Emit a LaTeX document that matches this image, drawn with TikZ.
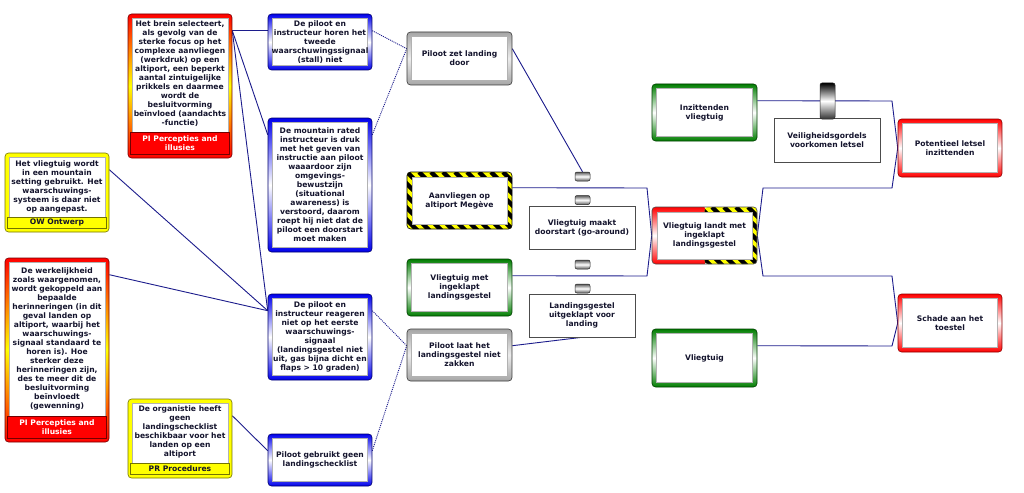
\documentclass[tikz,border=0pt]{standalone}
\usepackage{fontspec}
\setmainfont{DejaVu Sans}
\usetikzlibrary{calc,backgrounds}
\definecolor{linec}{RGB}{28,28,140}
\definecolor{txtc}{RGB}{20,20,45}
\definecolor{bblue}{RGB}{0,0,235}
\definecolor{bgreen}{RGB}{0,125,0}
\definecolor{bred}{RGB}{255,0,0}
\definecolor{byellow}{RGB}{255,255,0}
\tikzset{
  txt/.style={font=\bfseries\fontsize{7.6}{9}\selectfont, text=txtc, align=center, inner sep=0pt},
  bframe/.style n args={3}{rounded corners=3.5pt, draw=#3, line width=0.6pt, txt,
    minimum width=104pt,
    path picture={
      \shade[sharp corners, top color=#1, bottom color=#1, middle color=#2]
        (path picture bounding box.south west) rectangle (path picture bounding box.north east);
      \filldraw[sharp corners, fill=white, draw=gray!60, line width=0.4pt]
        ([shift={(4.5pt,-4.5pt)}]path picture bounding box.north west) rectangle
        ([shift={(-4.5pt,4.5pt)}]path picture bounding box.south east);
    }},
  bluebox/.style={bframe={bblue}{white}{bblue!45!black}},
  greenbox/.style={bframe={bgreen}{white}{bgreen!50!black}, minimum width=105pt},
  redbox/.style={bframe={bred}{white}{bred!55!black}},
  graybox/.style={bframe={gray!70}{gray!15}{gray!45!black}, minimum width=105pt},
  catbox/.style n args={4}{rounded corners=3.5pt, draw=#3, line width=0.6pt, inner sep=0pt,
    minimum width=104pt,
    path picture={
      \shade[sharp corners, top color=#1, bottom color=#1, middle color=#2]
        (path picture bounding box.south west) rectangle (path picture bounding box.north east);
      \filldraw[sharp corners, fill=white, draw=gray!60, line width=0.4pt]
        ([shift={(4pt,-4pt)}]path picture bounding box.north west) rectangle
        ([shift={(-4pt,#4+4pt)}]path picture bounding box.south east);
      \filldraw[sharp corners, fill=#1, draw=#3, line width=0.4pt]
        ([shift={(2.5pt,4pt)}]path picture bounding box.south west) rectangle
        ([shift={(-2.5pt,#4+4pt)}]path picture bounding box.south east);
    }},
  hazard/.style={rounded corners=3.5pt, draw=black, line width=0.6pt, txt, minimum width=105pt,
    path picture={
      \fill[byellow] (path picture bounding box.south west) rectangle (path picture bounding box.north east);
      \foreach \k in {-72,-60,...,120}{
        \draw[sharp corners, black, line width=4.3pt]
          ([xshift=\k pt]path picture bounding box.north west) -- ++(80pt,-80pt);}
      \filldraw[sharp corners, fill=white, draw=gray!60, line width=0.4pt]
        ([shift={(5pt,-5pt)}]path picture bounding box.north west) rectangle
        ([shift={(-5pt,5pt)}]path picture bounding box.south east);
    }},
  topev/.style={rounded corners=3.5pt, draw=black!70, line width=0.6pt, txt, minimum width=105pt,
    path picture={
      \shade[sharp corners, top color=bred, bottom color=bred, middle color=white]
        (path picture bounding box.south west) rectangle (path picture bounding box.north);
      \begin{scope}
        \clip (path picture bounding box.south) rectangle (path picture bounding box.north east);
        \fill[byellow] (path picture bounding box.south) rectangle (path picture bounding box.north east);
        \foreach \k in {-72,-60,...,120}{
          \draw[sharp corners, black, line width=4.3pt]
            ([xshift=\k pt]path picture bounding box.north west) -- ++(80pt,-80pt);}
      \end{scope}
      \filldraw[sharp corners, fill=white, draw=gray!60, line width=0.4pt]
        ([shift={(5pt,-5pt)}]path picture bounding box.north west) rectangle
        ([shift={(-5pt,5pt)}]path picture bounding box.south east);
    }},
  barrier/.style={rectangle, draw=gray!60!black, fill=white, line width=0.6pt, txt,
    minimum width=106pt, minimum height=43pt},
  pill/.style={rectangle, rounded corners=2pt, draw=black!85, line width=0.5pt, inner sep=0pt,
    minimum width=15pt, minimum height=9pt,
    top color=gray!70!black, bottom color=gray!70!black, middle color=white},
  conn/.style={draw=linec, line width=0.9pt},
  dconn/.style={conn, dash pattern=on 1pt off 1pt}
}
\begin{document}
\begin{tikzpicture}[x=1pt,y=-1pt]
\useasboundingbox (0,0) rectangle (1024,492);

% cause category boxes
\node[catbox={bred}{byellow}{bred!45!black}{22pt}, minimum height=144pt] (pi1) at (180,86) {};
\node[txt] (pi1t) at ($(pi1.north)+(0,60)$) {Het brein selecteert,\\ als gevolg van de\\ sterke focus op het\\ complexe aanvliegen\\ (werkdruk) op een\\ altiport, een beperkt\\ aantal zintuigelijke\\ prikkels en daarmee\\ wordt de\\ besluitvorming\\ beïnvloed (aandachts\\ -functie)};
\node[txt, text=white] (pi1c) at ($(pi1.south)+(0,-15)$) {PI Percepties and\\ illusies};

\node[catbox={byellow}{byellow}{byellow!45!black}{11pt}, minimum height=79pt] (ow) at (57,192.5) {};
\node[txt] (owt) at ($(ow.north)+(0,34.5)$) {Het vliegtuig wordt\\ in een mountain\\ setting gebruikt. Het\\ waarschuwings-\\ systeem is daar niet\\ op aangepast.};
\node[txt] (owc) at ($(ow.south)+(0,-9.5)$) {OW Ontwerp};

\node[catbox={bred}{byellow}{bred!45!black}{22pt}, minimum height=184pt] (pi2) at (57,350) {};
\node[txt] (pi2t) at ($(pi2.north)+(0,81.5)$) {De werkelijkheid\\ zoals waargenomen,\\ wordt gekoppeld aan\\ bepaalde\\ herinneringen (in dit\\ geval landen op\\ altiport, waarbij het\\ waarschuwings-\\ signaal standaard te\\ horen is). Hoe\\ sterker deze\\ herinneringen zijn,\\ des te meer dit de\\ besluitvorming\\ beïnvloedt\\ (gewenning)};
\node[txt, text=white] (pi2c) at ($(pi2.south)+(0,-15)$) {PI Percepties and\\ illusies};

\node[catbox={byellow}{byellow}{byellow!45!black}{11pt}, minimum height=79pt] (pr) at (180,438.5) {};
\node[txt] (prt) at ($(pr.north)+(0,33)$) {De organistie heeft\\ geen\\ landingschecklist\\ beschikbaar voor het\\ landen op een\\ altiport};
\node[txt] (prc) at ($(pr.south)+(0,-9.5)$) {PR Procedures};

% blue boxes
\node[bluebox, minimum height=56pt] (b1) at (320,42) {De piloot en\\ instructeur horen het\\ tweede\\ waarschuwingssignaal\\ (stall) niet};
\node[bluebox, minimum height=134pt] (b2) at (320,185) {De mountain rated\\ instructeur is druk\\ met het geven van\\ instructie aan piloot\\ waaardoor zijn\\ omgevings-\\ bewustzijn\\ (situational\\ awareness) is\\ verstoord, daarom\\ roept hij niet dat de\\ piloot een doorstart\\ moet maken};
\node[bluebox, minimum height=86pt] (b3) at (320,337) {De piloot en\\ instructeur reageren\\ niet op het eerste\\ waarschuwings-\\ signaal\\ (landingsgestel niet\\ uit, gas bijna dicht en\\ flaps > 10 graden)};
\node[bluebox, minimum height=52pt] (b4) at (320,460) {Piloot gebruikt geen\\ landingschecklist};

% grey, hazard, threat
\node[graybox, minimum height=53pt] (g1) at (459.5,58.5) {Piloot zet landing\\ door};
\node[hazard, minimum height=57pt] (haz) at (459.5,200.5) {Aanvliegen op\\ altiport Megève};
\node[greenbox, minimum height=57pt] (gm) at (459.5,287.5) {Vliegtuig met\\ ingeklapt\\ landingsgestel};
\node[graybox, minimum height=52pt] (g2) at (459.5,355) {Piloot laat het\\ landingsgestel niet\\ zakken};

% barriers left
\node[pill] (p1) at (582.5,176.5) {};
\node[pill] (p2) at (582.5,200) {};
\node[barrier] (bar1) at (582,227.5) {Vliegtuig maakt\\ doorstart (go-around)};
\node[pill] (p3) at (582.5,264.5) {};
\node[pill] (p4) at (582.5,288.5) {};
\node[barrier] (bar2) at (582,315.5) {Landingsgestel\\ uitgeklapt voor\\ landing};

% top event
\node[topev, minimum height=57pt] (te) at (704.5,235.5) {Vliegtuig landt met\\ ingeklapt\\ landingsgestel};

% right side
\node[greenbox, minimum height=57pt] (inz) at (704.5,112.5) {Inzittenden\\ vliegtuig};
\node[greenbox, minimum height=58pt] (vlg) at (704.5,358) {Vliegtuig};
\node[barrier, minimum height=44pt] (bar3) at (827,140) {Veiligheidsgordels\\ voorkomen letsel};
\node[pill, minimum height=36pt, top color=black, bottom color=black!80, middle color=white] (p5) at (827.5,101) {};
\node[redbox, minimum height=58pt] (pl) at (950,148) {Potentieel letsel\\ inzittenden};
\node[redbox, minimum height=58pt] (sch) at (950,323) {Schade aan het\\ toestel};

\begin{scope}[on background layer]
\fill[white] (0,0) rectangle (1024,492);
\draw[conn] ($(pi1.north east)+(0,17)$) -- ($(b1.north west)+(0,17)$);
\draw[conn] ($(pi1.north east)+(0,17)$) -- ($(b2.north west)+(0,17)$);
\draw[conn] ($(pi1.north east)+(0,17)$) -- ($(b3.north west)+(0,17)$);
\draw[conn] ($(ow.north east)+(0,17)$) -- ($(b3.north west)+(0,17)$);
\draw[conn] ($(pi2.north east)+(0,17)$) -- ($(b3.north west)+(0,17)$);
\draw[conn] ($(pr.north east)+(0,17)$) -- ($(b4.north west)+(0,17)$);
\draw[dconn] ($(b1.north east)+(0,17)$) -- ($(g1.north west)+(0,17)$);
\draw[dconn] ($(b2.north east)+(0,17)$) -- ($(g1.north west)+(0,17)$);
\draw[dconn] ($(b3.north east)+(0,17)$) -- ($(g2.north west)+(0,17)$);
\draw[dconn] ($(b4.north east)+(0,17)$) -- ($(g2.north west)+(0,17)$);
\draw[conn] ($(g1.north east)+(0,17)$) -- (p1.north);
\draw[conn] ($(g2.north east)+(0,17)$) -- (bar2.south);
\draw[conn] ($(haz.north east)+(0,16)$) -- (647,188) -- (te.west);
\draw[conn] ($(gm.north east)+(0,17)$) -- (647,276) -- (te.west);
\draw[conn] (te.east) -- (763,188) -- (892,188) -- (pl.west);
\draw[conn] (te.east) -- (763,276) -- (892,276) -- (sch.west);
\draw[conn] ($(inz.north east)+(0,17)$) -- (892,101) -- (pl.west);
\draw[conn] ($(vlg.north east)+(0,17)$) -- (892,346) -- (sch.west);
\end{scope}
\end{tikzpicture}
\end{document}
